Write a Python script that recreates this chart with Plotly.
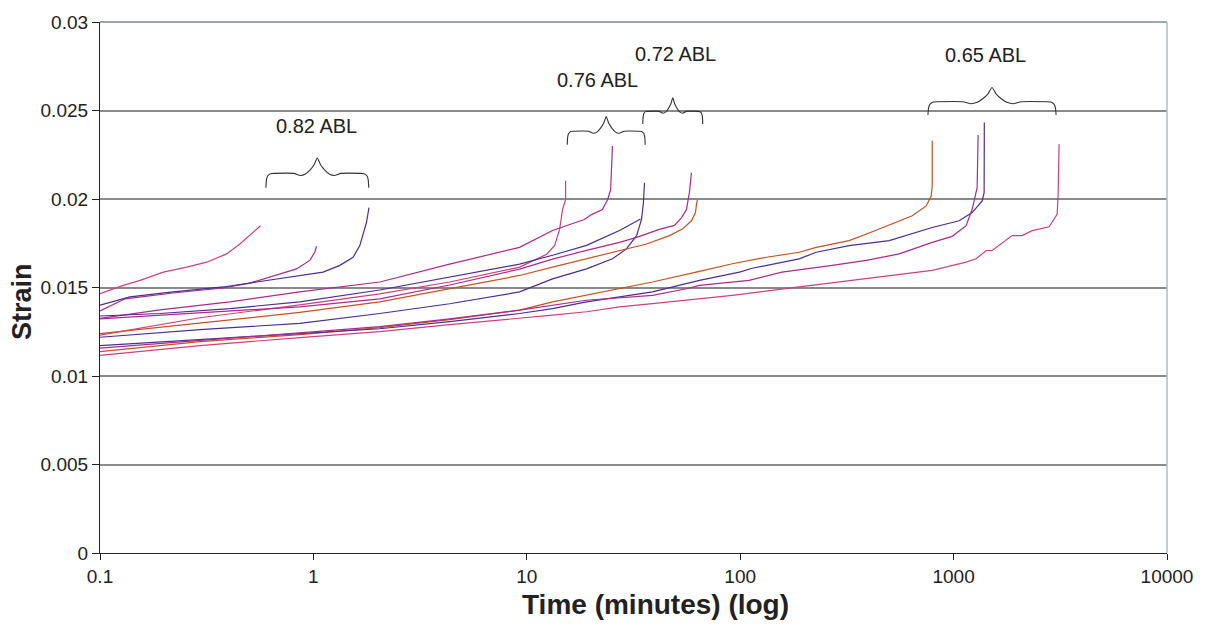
import numpy as np
import plotly.graph_objects as go

# ---- creep curves: time (minutes) and strain, grouped by load level (ABL) ----
# 0.82 ABL
time_082_a = [0.1, 0.1285, 0.154, 0.198, 0.255, 0.316, 0.392, 0.452, 0.565]
strain_082_a = [0.01465, 0.01512, 0.01540, 0.01587, 0.01615, 0.01643, 0.01690, 0.01746, 0.01849]
time_082_b = [0.1, 0.131, 0.22, 0.377, 0.504, 0.671, 0.834, 0.962, 1.015, 1.034]
strain_082_b = [0.01367, 0.01436, 0.01469, 0.01497, 0.01525, 0.01568, 0.01605, 0.01653, 0.01699, 0.01733]
time_082_c = [0.1, 0.138, 0.22, 0.378, 0.542, 0.775, 1.11, 1.33, 1.535, 1.65, 1.773, 1.822]
strain_082_c = [0.01400, 0.01447, 0.01475, 0.01503, 0.01531, 0.01559, 0.01587, 0.01625, 0.01671, 0.01737, 0.01867, 0.01951]

# 0.76 ABL
time_076_a = [0.1, 0.294, 0.863, 2.046, 4.35, 9.25, 12.4, 13.5, 14.25, 14.7, 15.2, 15.2]
strain_076_a = [0.01231, 0.01329, 0.01402, 0.01464, 0.01531, 0.01615, 0.01688, 0.01738, 0.01828, 0.01940, 0.01996, 0.02103]
time_076_b = [0.1, 0.191, 0.406, 0.863, 2.046, 4.35, 9.25, 11.5, 13.2, 15.9, 18.6, 20.1, 22.6, 23.9, 24.7, 24.9, 25.2]
strain_076_b = [0.01325, 0.01374, 0.01419, 0.01475, 0.01531, 0.01632, 0.01727, 0.01783, 0.01822, 0.01856,
                0.01884, 0.01912, 0.01940, 0.01996, 0.02052, 0.02148, 0.02299]
time_076_c = [0.1, 0.191, 0.406, 0.863, 2.046, 4.35, 9.25, 13.2, 19.05, 27.2, 33.0, 34.1]
strain_076_c = [0.01339, 0.01353, 0.01381, 0.01419, 0.01486, 0.01559, 0.01632, 0.01682, 0.01738, 0.01822, 0.01879, 0.01887]

# 0.72 ABL
time_072_a = [0.1, 0.294, 0.863, 2.046, 4.35, 9.25, 13.2, 19.05, 25.2, 29.3, 32.7, 34.5, 35.2, 35.6]
strain_072_a = [0.01219, 0.01262, 0.01297, 0.01353, 0.01408, 0.01475, 0.01549, 0.01605, 0.01662, 0.01718,
                0.01793, 0.01886, 0.01979, 0.02092]
time_072_b = [0.1, 0.294, 0.863, 2.046, 4.35, 9.25, 13.2, 19.05, 27.2, 32.7, 41.8, 49.2, 53.1, 56.0, 57.8, 59.1]
strain_072_b = [0.01323, 0.01357, 0.01391, 0.01436, 0.01514, 0.01604, 0.01660, 0.01710, 0.01755, 0.01783,
                0.01828, 0.01851, 0.01895, 0.01940, 0.02036, 0.02148]
time_072_c = [0.1, 0.294, 0.863, 2.046, 4.35, 9.25, 13.2, 19.05, 27.2, 36.4, 46.6, 53.6, 59.1, 61.7, 62.4, 63.0]
strain_072_c = [0.01239, 0.01301, 0.01359, 0.01419, 0.01492, 0.01568, 0.01615, 0.01662, 0.01709, 0.01746,
                0.01793, 0.01830, 0.01877, 0.01923, 0.01970, 0.01995]

# 0.65 ABL
time_065_a = [0.1, 0.294, 0.863, 2.046, 4.35, 9.25, 13.2, 19.05, 27.2, 38.8, 64.4, 91.9, 133, 189, 227, 324,
              416, 499, 640, 744, 785, 794, 794]
strain_065_a = [0.01138, 0.01194, 0.01234, 0.01273, 0.01318, 0.01372, 0.01419, 0.01456, 0.01493, 0.01531,
                0.01591, 0.01634, 0.01671, 0.01699, 0.01727, 0.01765, 0.01815, 0.01852, 0.01905, 0.01961,
                0.02017, 0.02073, 0.02329]
time_065_b = [0.1, 0.294, 0.863, 2.046, 4.35, 9.25, 13.2, 19.05, 27.2, 38.8, 64.4, 99.2, 114, 189, 227, 324,
              499, 600, 794, 1062, 1222, 1361, 1390, 1393]
strain_065_b = [0.01172, 0.01206, 0.01239, 0.01267, 0.01307, 0.01353, 0.01381, 0.01419, 0.01447, 0.01475,
                0.01540, 0.01587, 0.01609, 0.01662, 0.01699, 0.01737, 0.01765, 0.01793, 0.01839, 0.01877,
                0.01923, 0.01989, 0.02036, 0.02432]
time_065_c = [0.1, 0.294, 0.863, 2.046, 4.35, 9.25, 19.05, 38.8, 56.0, 64.4, 110, 157, 270, 390, 556, 794,
              985, 1145, 1222, 1289, 1303]
strain_065_c = [0.01157, 0.01200, 0.01245, 0.01279, 0.01323, 0.01372, 0.01428, 0.01456, 0.01493, 0.01512,
                0.01540, 0.01587, 0.01625, 0.01653, 0.01690, 0.01755, 0.01789, 0.01849, 0.01942, 0.02064, 0.02362]
time_065_d = [0.1, 0.294, 0.863, 2.046, 4.35, 9.25, 13.2, 19.05, 27.2, 38.8, 64.4, 91.9, 189, 390, 794, 1145,
              1275, 1421, 1517, 1880, 2094, 2333, 2803, 3055, 3088, 3121]
strain_065_d = [0.01116, 0.01172, 0.01217, 0.01251, 0.01290, 0.01325, 0.01344, 0.01363, 0.01391, 0.01409,
                0.01437, 0.01456, 0.01503, 0.01549, 0.01597, 0.01643, 0.01662, 0.01709, 0.01709, 0.01793,
                0.01793, 0.01821, 0.01843, 0.01914, 0.02017, 0.02310]

# ---- brace annotations marking each load group ----
group_labels = ["0.82 ABL", "0.76 ABL", "0.72 ABL", "0.65 ABL"]
brace_time_lo = [0.599, 15.47, 34.96, 758]
brace_time_hi = [1.817, 35.87, 66.75, 3022]
brace_strain_base = [0.02064, 0.02306, 0.02424, 0.02475]
brace_strain_tip = [0.02232, 0.02466, 0.02572, 0.02630]
label_time = [1.03, 21.5, 49.7, 1416]
label_strain = [0.02411, 0.02673, 0.02819, 0.02815]

# axis ticks
x_tick_vals = [0.1, 1, 10, 100, 1000, 10000]
x_tick_text = ["0.1", "1", "10", "100", "1000", "10000"]
y_tick_vals = [0, 0.005, 0.01, 0.015, 0.02, 0.025, 0.03]
y_tick_text = ["0", "0.005", "0.01", "0.015", "0.02", "0.025", "0.03"]

PINK = "#d23f7b"
MAGENTA = "#ae2a8c"
BLUE = "#4a2e99"
ORANGE = "#c9501f"

series = [
    (time_082_a, strain_082_a, PINK),
    (time_082_b, strain_082_b, MAGENTA),
    (time_082_c, strain_082_c, BLUE),
    (time_076_a, strain_076_a, PINK),
    (time_076_b, strain_076_b, MAGENTA),
    (time_076_c, strain_076_c, BLUE),
    (time_072_a, strain_072_a, BLUE),
    (time_072_b, strain_072_b, MAGENTA),
    (time_072_c, strain_072_c, ORANGE),
    (time_065_a, strain_065_a, ORANGE),
    (time_065_b, strain_065_b, BLUE),
    (time_065_c, strain_065_c, MAGENTA),
    (time_065_d, strain_065_d, PINK),
]

FONT = "Liberation Sans, Arial, sans-serif"
TEXT = "#222222"

fig = go.Figure()
for t, s, c in series:
    fig.add_trace(go.Scatter(x=t, y=s, mode="lines", line=dict(color=c, width=1.2),
                             showlegend=False, hoverinfo="skip"))

# curly brace profile across the span (u: 0..1 along log-time, v: 0 base .. 1 tip)
half_u = [0.0, 0.006, 0.018, 0.045, 0.08, 0.27, 0.335, 0.38, 0.43, 0.47, 0.5]
half_v = [0.0, 0.28, 0.40, 0.47, 0.48, 0.48, 0.41, 0.45, 0.60, 0.78, 1.0]
brace_u = np.array(half_u + [1 - u for u in reversed(half_u[:-1])])
brace_v = np.array(half_v + list(reversed(half_v[:-1])))

for lo, hi, b, tip in zip(brace_time_lo, brace_time_hi, brace_strain_base, brace_strain_tip):
    llo, lhi = np.log10(lo), np.log10(hi)
    bx = 10 ** (llo + brace_u * (lhi - llo))
    by = b + brace_v * (tip - b)
    fig.add_trace(go.Scatter(x=bx, y=by, mode="lines",
                             line=dict(color="#333333", width=1.1, shape="spline", smoothing=0.6),
                             showlegend=False, hoverinfo="skip"))

for txt, t, s in zip(group_labels, label_time, label_strain):
    fig.add_annotation(x=np.log10(t), y=s, text=txt, showarrow=False,
                       font=dict(family=FONT, size=20, color=TEXT))

# axis titles
fig.add_annotation(xref="paper", yref="paper", x=0.5206, y=-0.097, text="<b>Time (minutes) (log)</b>",
                   showarrow=False, xanchor="center", yanchor="middle",
                   font=dict(family=FONT, size=28, color=TEXT))
fig.add_annotation(xref="paper", yref="paper", x=-0.073, y=0.473, text="<b>Strain</b>", textangle=-90,
                   showarrow=False, xanchor="center", yanchor="middle",
                   font=dict(family=FONT, size=27, color=TEXT))

# frame: gray top and right edges
fig.add_shape(type="line", xref="paper", yref="paper", x0=0, x1=1, y0=1, y1=1,
              line=dict(color="#7d8a90", width=1.5))
fig.add_shape(type="line", xref="paper", yref="paper", x0=1, x1=1, y0=0, y1=1,
              line=dict(color="#b3bcc0", width=1.5))

fig.update_layout(
    width=1205, height=627,
    margin=dict(l=100, r=37, t=18, b=74),
    paper_bgcolor="white", plot_bgcolor="white",
    font=dict(family=FONT, size=19, color=TEXT),
    xaxis=dict(
        type="log", range=[-1, 4],
        tickvals=x_tick_vals, ticktext=x_tick_text,
        ticks="outside", ticklen=6, tickcolor="#222222", tickwidth=1,
        showline=True, linecolor="#222222", linewidth=1.2,
        showgrid=False, zeroline=False,
    ),
    yaxis=dict(
        range=[0, 0.03],
        tickvals=y_tick_vals, ticktext=y_tick_text,
        ticks="outside", ticklen=7, tickcolor="#222222", tickwidth=1,
        showline=True, linecolor="#222222", linewidth=1.2,
        showgrid=True, gridcolor="#8a8a8a", gridwidth=1.5, zeroline=False,
    ),
)

fig.write_html("out.html")
